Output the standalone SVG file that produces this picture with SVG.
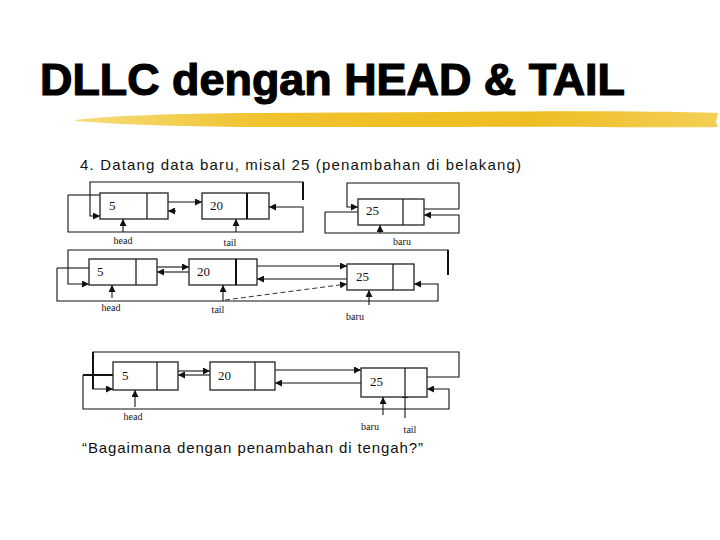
<svg xmlns="http://www.w3.org/2000/svg" width="720" height="540" viewBox="0 0 720 540">
<defs>
<marker id="ah" viewBox="0 0 10 10" refX="10" refY="5" markerWidth="7" markerHeight="7" markerUnits="userSpaceOnUse" orient="auto"><path d="M0,0 L10,5 L0,10 z" fill="#111"/></marker>
<linearGradient id="brush" x1="0" y1="0" x2="1" y2="0">
<stop offset="0" stop-color="#f6dd7a"/>
<stop offset="0.3" stop-color="#f0c22c"/>
<stop offset="0.7" stop-color="#eebd22"/>
<stop offset="1" stop-color="#f3cf55"/>
</linearGradient>
<style>
.box{fill:#fff;stroke:#222;stroke-width:1.3}
.div{stroke:#222;stroke-width:1.3}
.thick{stroke:#111;stroke-width:2}
.ln{fill:none;stroke:#111;stroke-width:1.1}
.arr{fill:none;stroke:#111;stroke-width:1.1;marker-end:url(#ah)}
.dash{fill:none;stroke:#333;stroke-width:1;stroke-dasharray:5,3;marker-end:url(#ah)}
.num{font-family:"Liberation Serif",serif;font-size:13px;fill:#111}
.lbl{font-family:"Liberation Serif",serif;font-size:10px;fill:#111;text-anchor:middle}
.txt{font-family:"Liberation Sans",Arial,sans-serif;font-size:15px;fill:#111}
</style>
</defs>
<rect width="720" height="540" fill="#fff"/>
<text x="40" y="95" font-family="Liberation Sans,Arial,sans-serif" font-weight="bold" font-size="44" textLength="585" lengthAdjust="spacingAndGlyphs" fill="#000" stroke="#000" stroke-width="1.2">DLLC dengan HEAD &amp; TAIL</text>
<path d="M75,120 C110,116 160,114 240,113 L450,112 C560,111 650,111 718,113 L716,122 L718,127 C650,128 560,126 450,127 L240,127 C160,126 110,124 75,121 Z" fill="url(#brush)"/>
<text class="txt" x="80" y="170" textLength="441" lengthAdjust="spacing">4.  Datang data baru, misal 25 (penambahan di belakang)</text>

<g id="connectors">
<!-- diagram 1 -->
<polyline class="arr" points="303,200 303,182 90,182 90,216 100,216"/>
<polyline class="arr" points="68,195 68,232 303,232 303,207 269,207"/>
<line class="thick" x1="303" y1="182" x2="303" y2="200"/>
<line class="ln" x1="68" y1="195" x2="100" y2="195"/>
<line class="arr" x1="168" y1="202" x2="202" y2="202"/>
<line class="arr" x1="176" y1="211" x2="168" y2="211"/>
<line class="arr" x1="123" y1="232" x2="123" y2="219"/>
<line class="arr" x1="236" y1="232" x2="236" y2="219"/>
<polyline class="arr" points="459,209 459,183 347,183 347,207 358,207"/>
<line class="ln" x1="424" y1="209" x2="459" y2="209"/>
<polyline class="arr" points="325,212 325,233 459,233 459,215 424,215"/>
<line class="ln" x1="325" y1="212" x2="358" y2="212"/>
<line class="arr" x1="380" y1="233" x2="380" y2="225"/>
<!-- diagram 2 -->
<polyline class="arr" points="448,275 448,250 68,250 68,284 89,284"/>
<line class="thick" x1="448" y1="250" x2="448" y2="275"/>
<polyline class="arr" points="57,268 57,301 438,301 438,284 414,284"/>
<line class="ln" x1="57" y1="268" x2="89" y2="268"/>
<line class="arr" x1="157" y1="267" x2="189" y2="267"/>
<line class="arr" x1="189" y1="272" x2="157" y2="272"/>
<line class="arr" x1="257" y1="266" x2="347" y2="266"/>
<line class="arr" x1="347" y1="279" x2="257" y2="279"/>
<line class="dash" x1="225" y1="300" x2="347" y2="284"/>
<line class="arr" x1="112" y1="298" x2="112" y2="285"/>
<line class="arr" x1="223" y1="301" x2="223" y2="285"/>
<line class="arr" x1="369" y1="305" x2="369" y2="290"/>
<!-- diagram 3 -->
<polyline class="arr" points="427,377 459,377 459,352 93,352 93,389 113,389"/>
<line class="thick" x1="93" y1="352" x2="93" y2="389"/>
<polyline class="arr" points="83,375 83,409 449,409 449,389 427,389"/>
<line class="thick" x1="83" y1="375" x2="113" y2="375"/>
<line class="arr" x1="178" y1="371" x2="210" y2="371"/>
<line class="arr" x1="210" y1="375" x2="178" y2="375"/>
<line class="arr" x1="275" y1="370" x2="361" y2="370"/>
<line class="arr" x1="361" y1="383" x2="275" y2="383"/>
<line class="arr" x1="135" y1="407" x2="135" y2="390"/>
<line class="arr" x1="383" y1="415" x2="383" y2="397"/>
<line class="arr" x1="405" y1="418" x2="405" y2="391"/>
</g>

<g id="d1-node5"><rect class="box" x="100" y="193" width="68" height="26"/><line class="div" x1="147" y1="193" x2="147" y2="219"/><text class="num" x="109" y="210">5</text></g>
<g id="d1-node20"><rect class="box" x="202" y="193" width="67" height="26"/><line class="thick" x1="247" y1="193" x2="247" y2="219"/><text class="num" x="210" y="210">20</text></g>
<g id="d1-node25"><rect class="box" x="358" y="199" width="66" height="26"/><line class="div" x1="403" y1="199" x2="403" y2="225"/><text class="num" x="366" y="215">25</text></g>
<g id="d1-labels"><text class="lbl" x="123" y="244">head</text><text class="lbl" x="230" y="246">tail</text><text class="lbl" x="402" y="245">baru</text></g>

<g id="d2-node5"><rect class="box" x="89" y="259" width="68" height="26"/><line class="div" x1="136" y1="259" x2="136" y2="285"/><text class="num" x="97" y="276">5</text></g>
<g id="d2-node20"><rect class="box" x="189" y="259" width="68" height="26"/><line class="thick" x1="236" y1="259" x2="236" y2="285"/><text class="num" x="197" y="276">20</text></g>
<g id="d2-node25"><rect class="box" x="347" y="264" width="67" height="26"/><line class="div" x1="393" y1="264" x2="393" y2="290"/><text class="num" x="356" y="281">25</text></g>
<g id="d2-labels"><text class="lbl" x="111" y="311">head</text><text class="lbl" x="218" y="313">tail</text><text class="lbl" x="355" y="320">baru</text></g>

<g id="d3-node5"><rect class="box" x="113" y="362" width="65" height="28"/><line class="div" x1="157" y1="362" x2="157" y2="390"/><text class="num" x="122" y="380">5</text></g>
<g id="d3-node20"><rect class="box" x="210" y="362" width="65" height="28"/><line class="div" x1="255" y1="362" x2="255" y2="390"/><text class="num" x="218" y="380">20</text></g>
<g id="d3-node25"><rect class="box" x="361" y="368" width="66" height="29"/><line class="div" x1="405" y1="368" x2="405" y2="397"/><text class="num" x="370" y="386">25</text></g>
<g id="d3-labels"><text class="lbl" x="133" y="420">head</text><text class="lbl" x="370" y="430">baru</text><text class="lbl" x="410" y="433">tail</text></g>

<text class="txt" x="82" y="453" textLength="341" lengthAdjust="spacing">“Bagaimana dengan penambahan di tengah?”</text>
</svg>
